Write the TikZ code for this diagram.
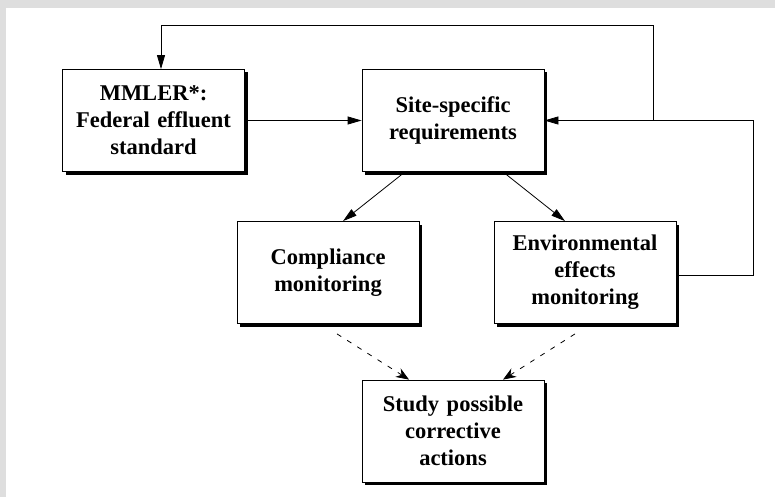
\documentclass[tikz,border=0pt]{standalone}
\usepackage{fontspec}
\setmainfont{Liberation Serif}
\usetikzlibrary{arrows.meta,shadows}
\definecolor{framegray}{HTML}{DEDEDE}

\begin{document}
\begin{tikzpicture}[x=1pt, y=-1pt,
    box/.style={draw, line width=0.8pt, fill=white, minimum width=182pt,
      minimum height=102pt, inner sep=0pt, text width=178pt, align=center,
      font=\fontsize{22.5}{27}\selectfont\bfseries,
      drop shadow={shadow xshift=3pt, shadow yshift=-3pt, opacity=1, fill=black}},
    link/.style={line width=0.8pt, -{Triangle[length=14pt, width=8pt]}},
    maybe/.style={line width=0.8pt, dash pattern=on 5pt off 7pt,
      -{Stealth[length=13pt, width=10pt]}}]
  \useasboundingbox (0,0) rectangle (775,497);
  \fill[framegray] (0,0) rectangle (775,497);
  \fill[white] (6,8) rectangle (775,497);

  \node[box] (mmler) at (153.5,120.5) {MMLER*:\\Federal effluent\\standard};
  \node[box] (site) at (453,120.5) {Site-specific\\requirements};
  \node[box] (comp) at (328,272.5) {Compliance\\monitoring};
  \node[box] (env) at (585,272.5) {Environmental\\effects\\monitoring};
  \node[box] (study) at (453,431) {Study possible\\corrective\\actions};
  \coordinate (junc) at (653,120.5);

  \draw[link] (mmler) -- (site);
  \draw[link] ([xshift=-48pt]site.south) -- ([xshift=15pt]comp.north);
  \draw[link] ([xshift=50pt]site.south) -- ([xshift=-20pt]env.north);
  \draw[link] ([yshift=-2.5pt]env.east) -- ++(77,0) |- (site.east);
  \draw[link] (junc) -- ++(0,-95.5) -| ([xshift=7.5pt]mmler.north);
  \draw[maybe] ([xshift=9pt, yshift=-10pt]comp.south) -- ([xshift=-44pt]study.north);
  \draw[maybe] ([xshift=-10pt, yshift=-10pt]env.south) -- ([xshift=50pt]study.north);
\end{tikzpicture}
\end{document}
